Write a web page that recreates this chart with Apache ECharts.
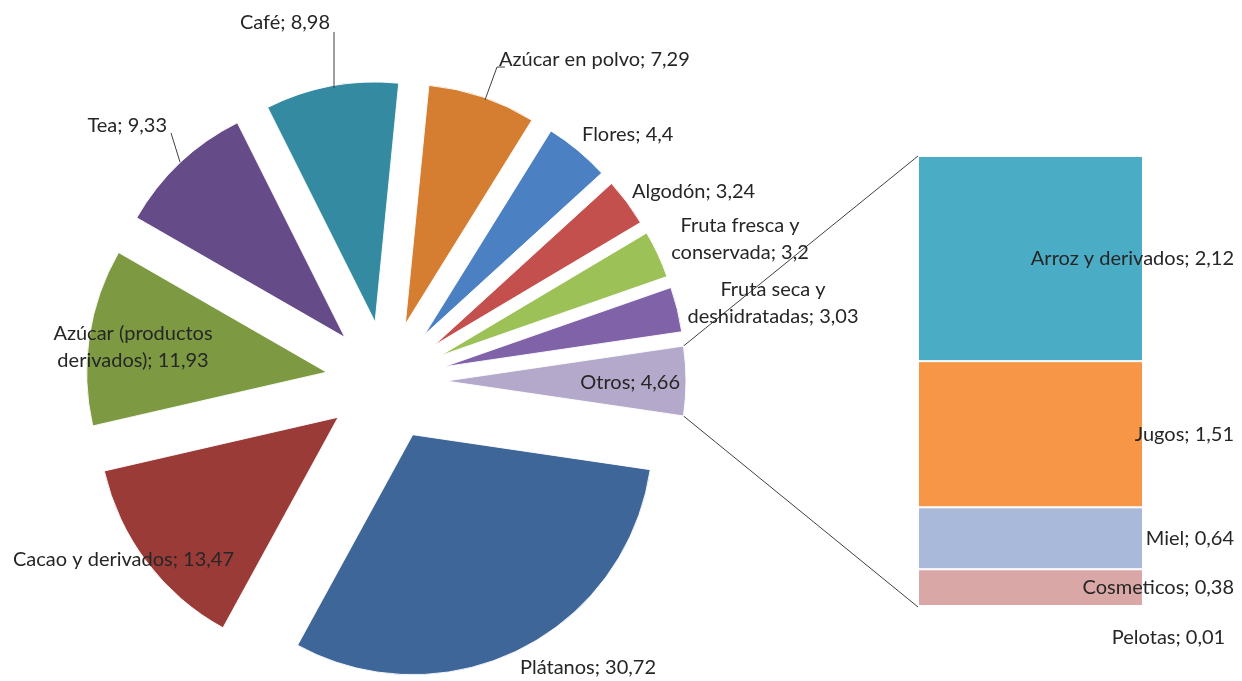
<!DOCTYPE html>
<html>
<head>
<meta charset="utf-8">
<script src="https://cdn.jsdelivr.net/npm/echarts@6/dist/echarts.min.js"></script>
<style>
html,body{margin:0;padding:0;background:#fff;}
#main{width:1242px;height:681px;}
</style>
</head>
<body>
<div id="main"></div>
<script>
// ---- data ----
const pieNames = ['Plátanos', 'Cacao y derivados', 'Azúcar (productos derivados)', 'Tea', 'Café',
  'Azúcar en polvo', 'Flores', 'Algodón', 'Fruta fresca y conservada', 'Fruta seca y deshidratadas'];
const pieValues = [30.72, 13.47, 11.93, 9.33, 8.98, 7.29, 4.4, 3.24, 3.2, 3.03];
const otrosName = 'Otros';
const otrosValue = 4.66;
const barNames = ['Arroz y derivados', 'Jugos', 'Miel', 'Cosmeticos', 'Pelotas'];
const barValues = [2.12, 1.51, 0.64, 0.38, 0.01];

// ---- styles ----
const pieColors = {
  'Otros': '#b4a9ca', 'Plátanos': '#3e6698', 'Cacao y derivados': '#9b3b38',
  'Azúcar (productos derivados)': '#7d9a43', 'Tea': '#654b87', 'Café': '#348aa0',
  'Azúcar en polvo': '#d57d30', 'Flores': '#4b80c2', 'Algodón': '#c4504d',
  'Fruta fresca y conservada': '#9cc156', 'Fruta seca y deshidratadas': '#7f62a8'
};
const barColors = ['#4bacc6', '#f79646', '#a9b9da', '#d9a7a6', '#c9c9c9'];
const wrapped = {
  'Azúcar (productos derivados)': 'Azúcar (productos\nderivados)',
  'Fruta fresca y conservada': 'Fruta fresca y\nconservada',
  'Fruta seca y deshidratadas': 'Fruta seca y\ndeshidratadas'
};
const labelPlace = {
  'Otros': {x: 680, y: 383, align: 'right'},
  'Plátanos': {x: 520, y: 668, align: 'left'},
  'Cacao y derivados': {x: 13, y: 560, align: 'left'},
  'Azúcar (productos derivados)': {x: 133, y: 347, align: 'center'},
  'Tea': {x: 167, y: 126, align: 'right', line: [[171, 133], [180, 162]]},
  'Café': {x: 330, y: 23, align: 'right', line: [[334, 32], [334, 88]]},
  'Azúcar en polvo': {x: 499, y: 60, align: 'left', line: [[505, 67], [497, 67], [485, 100]]},
  'Flores': {x: 582, y: 135, align: 'left'},
  'Algodón': {x: 632, y: 192, align: 'left'},
  'Fruta fresca y conservada': {x: 740, y: 239, align: 'center'},
  'Fruta seca y deshidratadas': {x: 773, y: 303, align: 'center'}
};
const FONT = 'Lato';
const FSIZE = 20;
const TXT = '#262626';
const PIE_CENTER = [386, 381];
const PIE_RADIUS = 240;
const EXPLODE = 60;
const fmt = v => String(v).replace('.', ',');

const baseData = [{name: otrosName, value: otrosValue}]
  .concat(pieNames.map((n, i) => ({name: n, value: pieValues[i]})));
const pieOrder = baseData.map(d => d.name);
const total = baseData.reduce((a, d) => a + d.value, 0);
const startAngle = 360 * otrosValue / total / 2;

const chart = echarts.init(document.getElementById('main'), null, {renderer: 'canvas'});

const barSeries = barNames.map((n, i) => ({
  type: 'bar', name: n, stack: 'otros', xAxisIndex: 0, yAxisIndex: 0,
  barWidth: '100%',
  data: [barValues[i]],
  itemStyle: {color: barColors[i], borderColor: '#ffffff', borderWidth: 1},
  label: {
    show: true,
    position: i === barNames.length - 1 ? 'bottom' : 'insideRight',
    offset: i === barNames.length - 1 ? [138, 16] : [96, 0],
    formatter: p => p.seriesName + '; ' + fmt(p.value),
    color: TXT, fontFamily: FONT, fontSize: FSIZE
  }
}));

chart.setOption({
  animation: false,
  backgroundColor: '#ffffff',
  grid: {left: 918, top: 156, width: 225, height: 451},
  xAxis: {type: 'category', data: ['Otros'], show: false},
  yAxis: {type: 'value', min: 0, max: otrosValue, inverse: true, show: false},
  series: [{
    // exploded slices
    type: 'pie',
    center: PIE_CENTER,
    radius: PIE_RADIUS,
    startAngle: startAngle,
    clockwise: true,
    selectedMode: 'multiple',
    selectedOffset: EXPLODE,
    avoidLabelOverlap: false,
    itemStyle: {borderColor: 'rgba(255,255,255,0.9)', borderWidth: 1},
    emphasis: {disabled: true},
    label: {show: false},
    labelLine: {show: false},
    data: baseData.map(d => ({
      name: d.name, value: d.value, selected: true,
      itemStyle: {color: pieColors[d.name]}
    }))
  }, {
    // same slices, not exploded, only carrying the data labels
    type: 'pie',
    silent: true,
    center: PIE_CENTER,
    radius: PIE_RADIUS,
    startAngle: startAngle,
    clockwise: true,
    avoidLabelOverlap: false,
    z: 3,
    itemStyle: {color: 'rgba(0,0,0,0)', borderWidth: 0},
    emphasis: {disabled: true},
    label: {
      show: true, position: 'outside',
      formatter: p => (wrapped[p.name] || p.name) + '; ' + fmt(p.value),
      color: TXT, fontFamily: FONT, fontSize: FSIZE, lineHeight: 27
    },
    labelLine: {show: false},
    labelLayout: params => {
      const lp = labelPlace[pieOrder[params.dataIndex]];
      const o = {x: lp.x, y: lp.y, align: lp.align, verticalAlign: 'middle'};
      if (lp.line) o.labelLinePoints = lp.line;
      return o;
    },
    data: baseData.map(d => ({
      name: d.name, value: d.value,
      labelLine: {show: !!labelPlace[d.name].line, lineStyle: {color: '#404040', width: 1}}
    }))
  }].concat(barSeries)
});

// connector lines from the Otros slice to the stacked bar, derived from laid-out geometry
const pieSeries = chart.getModel().getSeriesByIndex(0);
const lay = pieSeries.getData().getItemLayout(0);
const mid = (lay.startAngle + lay.endAngle) / 2;
const ox = lay.cx + EXPLODE * Math.cos(mid), oy = lay.cy + EXPLODE * Math.sin(mid);
const p1 = [ox + lay.r * Math.cos(lay.startAngle), oy + lay.r * Math.sin(lay.startAngle)];
const p2 = [ox + lay.r * Math.cos(lay.endAngle), oy + lay.r * Math.sin(lay.endAngle)];
const gridRect = chart.getModel().getComponent('grid', 0).coordinateSystem.getRect();
const topY = chart.convertToPixel({yAxisIndex: 0}, 0);
const botY = chart.convertToPixel({yAxisIndex: 0}, otrosValue);
const ends = [[gridRect.x, topY], [gridRect.x, botY]];
const pts = [p1, p2].sort((a, b) => a[1] - b[1]);
chart.setOption({
  graphic: [0, 1].map(k => ({
    type: 'line', z: 0,
    shape: {x1: pts[k][0], y1: pts[k][1], x2: ends[k][0], y2: ends[k][1]},
    style: {stroke: '#404040', lineWidth: 1}
  }))
});
</script>
</body>
</html>
